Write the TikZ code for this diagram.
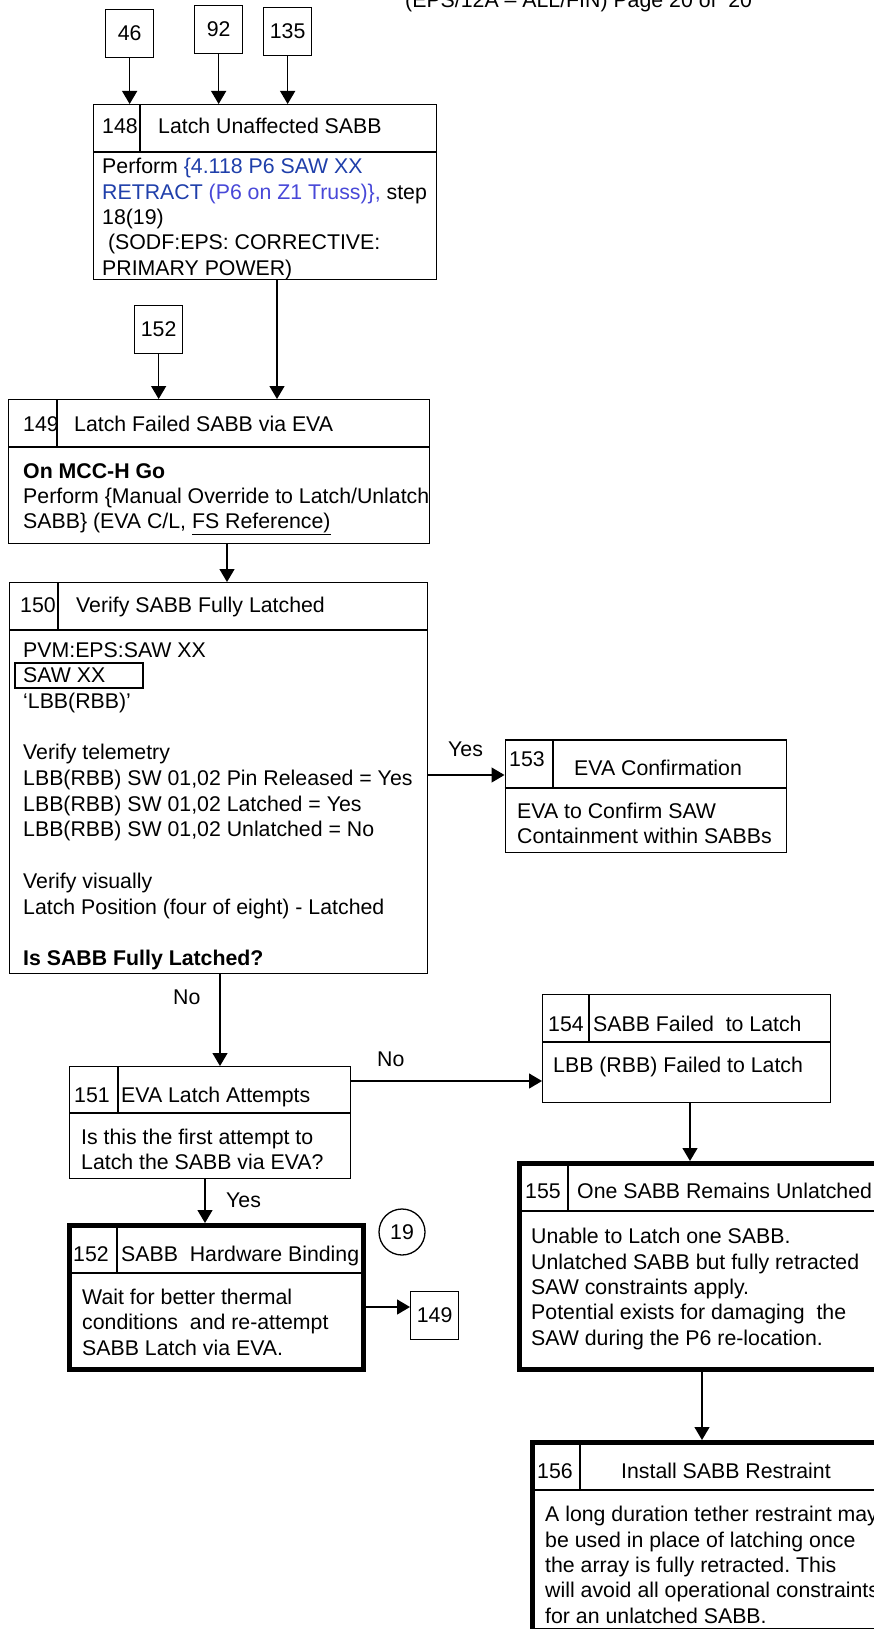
\documentclass[tikz,border=0pt]{standalone}
\usepackage{fontspec}
\setmainfont{Liberation Sans}
\usetikzlibrary{arrows.meta}
\definecolor{LinkBlue}{HTML}{1F3FAA}
\definecolor{LinkViolet}{HTML}{4848D8}
\newcommand\stepfont{\fontsize{21.3}{25.3}\selectfont}
\frenchspacing

\begin{document}
\begin{tikzpicture}[x=1pt,y=-1pt,
    txt/.style={anchor=base west,inner sep=0pt,align=left,font=\stepfont},
    stepbox/.style={draw,line width=1.3pt,anchor=north west,inner sep=0pt},
    heavybox/.style={stepbox,line width=5pt},
    refbox/.style={stepbox,minimum width=48,minimum height=48,font=\stepfont},
    rule/.style={line width=1.3pt},
    flow/.style={line width=1.3pt,-{Triangle[width=15pt,length=13pt]}}]
  \useasboundingbox (0,0) rectangle (874,1629);
  \clip (0,0) rectangle (874,1629);

  \node[txt] (hdr) at (405,8) {(EPS/12A – ALL/FIN) Page 20 of\ \ 20};

  % off-page references
  \node[refbox] (r46) at (105,9) {46};
  \node[refbox] (r92) at (194,5) {92};
  \node[refbox] (r135) at (263,7) {135};
  \node[refbox] (r152) at (134,305) {152};
  \node[refbox] (r149) at (410,1291) {149};
  \node[draw,circle,line width=1.3pt,minimum size=46,inner sep=0pt,font=\stepfont] (c19) at (402,1232) {19};

  % step boxes
  \node[stepbox,minimum width=343,minimum height=175] (b148) at (93,104) {};
  \node[stepbox,minimum width=421,minimum height=144] (b149) at (8,399) {};
  \node[stepbox,minimum width=417.5,minimum height=391] (b150) at (9,582) {};
  \node[stepbox,minimum width=281.5,minimum height=112.5] (b153) at (504.5,739.3) {};
  \node[stepbox,minimum width=280.5,minimum height=111.7] (b151) at (69,1066) {};
  \node[stepbox,minimum width=287.6,minimum height=107.7] (b154) at (542,994) {};
  \node[heavybox,minimum width=358,minimum height=206] (b155) at (517,1161) {};
  \node[heavybox,minimum width=294,minimum height=144] (b152) at (67,1223) {};
  \node[heavybox,minimum width=345,minimum height=188] (b156) at (530,1440) {};

  % header rows
  \foreach \bx/\hy/\dx in {b148/152/140, b149/447/57, b150/630/58, b153/788/553,
      b151/1113/118, b154/1042/589, b155/1211/568, b152/1273/117, b156/1490/580}
    \draw[rule] (\bx.west |- 0,\hy) -- (\bx.east |- 0,\hy) (\dx,\hy) -- (\bx.north -| \dx,0);

  % texts (a multi-line node sits on the baseline of its last line)
  \node[txt] (n148) at (102,134) {148};
  \node[txt] (t148) at (158,134) {Latch Unaffected SABB};
  \node[txt] (d148) at (102,275.2) {Perform {\color{LinkBlue}\{4.118 P6 SAW XX}\\
    {\color{LinkBlue}RETRACT} {\color{LinkViolet}(P6 on Z1 Truss)\},} step\\
    18(19)\\
    \ (SODF:EPS: CORRECTIVE:\\
    PRIMARY POWER)};

  \node[txt] (n149) at (23,431) {149};
  \node[txt] (t149) at (74,431) {Latch Failed SABB via EVA};
  \node[txt] (d149) at (23,528.6) {\textbf{On MCC-H Go}\\
    Perform \{Manual Override to Latch/Unlatch\\
    SABB\} (EVA C/L, \underline{FS Reference)}};

  \node[txt] (n150) at (20,612) {150};
  \node[txt] (t150) at (76,612) {Verify SABB Fully Latched};
  \node[txt,font=\fontsize{21.3}{25.7}\selectfont] (d150) at (23,965.4) {PVM:EPS:SAW XX\\
    SAW XX\\
    ‘LBB(RBB)’\\[25.7pt]
    Verify telemetry\\
    LBB(RBB) SW 01,02 Pin Released = Yes\\
    LBB(RBB) SW 01,02 Latched = Yes\\
    LBB(RBB) SW 01,02 Unlatched = No\\[25.7pt]
    Verify visually\\
    Latch Position (four of eight) - Latched\\[25.7pt]
    \textbf{Is SABB Fully Latched?}};
  \draw[rule] (15,663) rectangle (143,688);

  \node[txt] (n153) at (509,766) {153};
  \node[txt] (t153) at (574,775) {EVA Confirmation};
  \node[txt] (d153) at (517,843.3) {EVA to Confirm SAW\\
    Containment within SABBs};

  \node[txt] (n151) at (74,1102) {151};
  \node[txt] (t151) at (121,1102) {EVA Latch Attempts};
  \node[txt] (d151) at (81,1169.8) {Is this the first attempt to\\
    Latch the SABB via EVA?};

  \node[txt] (n154) at (548,1031) {154};
  \node[txt] (t154) at (593,1031) {SABB Failed\ \ to Latch};
  \node[txt] (d154) at (553,1072.5) {LBB (RBB) Failed to Latch};

  \node[txt] (n155) at (525,1198) {155};
  \node[txt] (t155) at (577,1198) {One SABB Remains Unlatched};
  \node[txt] (d155) at (531,1345) {Unable to Latch one SABB.\\
    Unlatched SABB but fully retracted\\
    SAW constraints apply.\\
    Potential exists for damaging\ \ the\\
    SAW during the P6 re-location.};

  \node[txt] (n152) at (73,1261) {152};
  \node[txt] (t152) at (121,1261) {SABB\ \ Hardware Binding};
  \node[txt] (d152) at (82,1355) {Wait for better thermal\\
    conditions\ \ and re-attempt\\
    SABB Latch via EVA.};

  \node[txt] (n156) at (537,1478) {156};
  \node[txt] (t156) at (621,1478) {Install SABB Restraint};
  \node[txt] (d156) at (545,1623) {A long duration tether restraint may\\
    be used in place of latching once\\
    the array is fully retracted. This\\
    will avoid all operational constraints\\
    for an unlatched SABB.};

  % labels on connectors
  \node[txt] (yes153) at (448,756.5) {Yes};
  \node[txt] (no151) at (173,1004.5) {No};
  \node[txt] (no154) at (377,1066.5) {No};
  \node[txt] (yes152) at (226,1207.5) {Yes};

  % connectors
  \draw[flow] (r46) -- (r46 |- b148.north);
  \draw[flow] (r92) -- (r92 |- b148.north);
  \draw[flow] (r135) -- (r135 |- b148.north);
  \draw[flow] (b148.south -| 277,0) -- (b149.north -| 277,0);
  \draw[flow] (r152) -- (r152 |- b149.north);
  \draw[flow] (b149.south -| 227,0) -- (b150.north -| 227,0);
  \draw[flow] (b150.east |- 0,775) -- (b153.west |- 0,775);
  \draw[flow] (b150.south -| 220,0) -- (b151.north -| 220,0);
  \draw[flow] (b151.east |- 0,1081) -- (b154.west |- 0,1081);
  \draw[flow] (b151.south -| 205,0) -- (b152.north -| 205,0);
  \draw[flow] (b152.east |- 0,1307) -- (r149.west |- 0,1307);
  \draw[flow] (b154.south -| 690,0) -- (b155.north -| 690,0);
  \draw[flow] (b155.south -| 702,0) -- (b156.north -| 702,0);
\end{tikzpicture}
\end{document}
